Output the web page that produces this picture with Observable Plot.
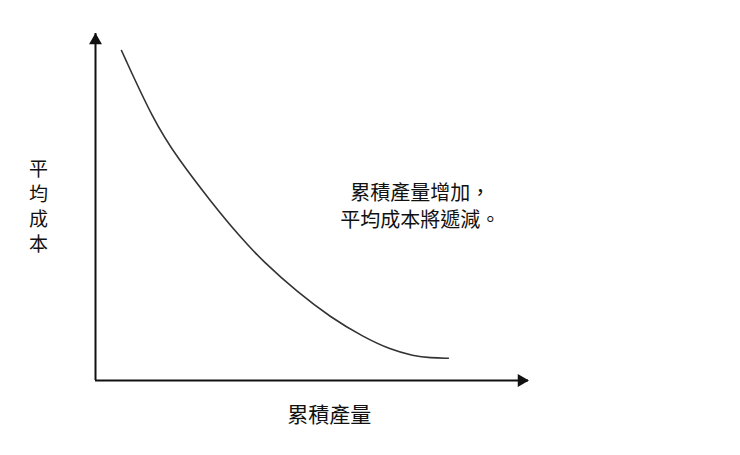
<!DOCTYPE html>
<html>
<head>
<meta charset="utf-8">
<script src="https://cdn.jsdelivr.net/npm/d3@7"></script>
<script src="https://cdn.jsdelivr.net/npm/@observablehq/plot@0.6"></script>
<style>
  html, body { margin: 0; padding: 0; background: #fff; }
  #chart { width: 740px; height: 455px; }
  svg { font-family: "Noto Sans CJK TC", "Noto Sans", sans-serif; }
</style>
</head>
<body>
<div id="chart"></div>
<script>
// Cumulative output (x) and average cost (y)
const quantity = [6.0, 13.4, 18.9, 26.6, 33.5, 38.8, 46.7, 54.3, 61.9, 68.1, 73.4, 77.4, 81.5];
const avgCost  = [95.1, 74.9, 64.2, 51.6, 41.2, 34.2, 25.4, 18.2, 12.5, 8.9, 7.1, 6.5, 6.4];

const yLabelChars = ["平", "均", "成", "本"];
const xLabel = ["累積產量"];
const annotation = ["累積產量增加，", "平均成本將遞減。"];

const curve = quantity.map((q, i) => ({q, c: avgCost[i]}));
const yUnitPx = 347 / 100; // pixels per y unit (frame height / domain)

const chart = Plot.plot({
  width: 740,
  height: 455,
  marginLeft: 95,
  marginRight: 212,
  marginTop: 33,
  marginBottom: 75,
  x: {domain: [0, 100], axis: null},
  y: {domain: [0, 100], axis: null},
  style: {fontFamily: '"Noto Sans CJK TC", sans-serif', background: "#fff"},
  marks: [
    Plot.ruleX([0], {stroke: "#111", strokeWidth: 2}),
    Plot.ruleY([0], {stroke: "#111", strokeWidth: 2}),
    Plot.dot([{x: 0, y: 100}], {x: "x", y: "y", symbol: "triangle", r: 4.8, fill: "#111", stroke: "none", dy: 7}),
    Plot.dot([{x: 100, y: 0}], {x: "x", y: "y", symbol: "triangle", r: 4.8, fill: "#111", stroke: "none", rotate: 90, dx: -7}),
    Plot.line(curve, {x: "q", y: "c", curve: "basis", stroke: "#333", strokeWidth: 1.6}),
    Plot.text(yLabelChars, {text: d => d, frameAnchor: "left", y: (d, i) => 50 + (1.5 - i) * 25 / yUnitPx, dx: -57, fontSize: 19, fill: "#111", textAnchor: "middle"}),
    Plot.text(annotation, {text: d => d, x: () => 75, y: (d, i) => 50 + (0.5 - i) * 27 / yUnitPx, fontSize: 20, fill: "#111", textAnchor: "middle"}),
    Plot.text(xLabel, {text: d => d, x: () => 54, frameAnchor: "bottom", dy: 41, fontSize: 21, fill: "#111", textAnchor: "middle"})
  ]
});
document.getElementById("chart").appendChild(chart);
</script>
</body>
</html>
